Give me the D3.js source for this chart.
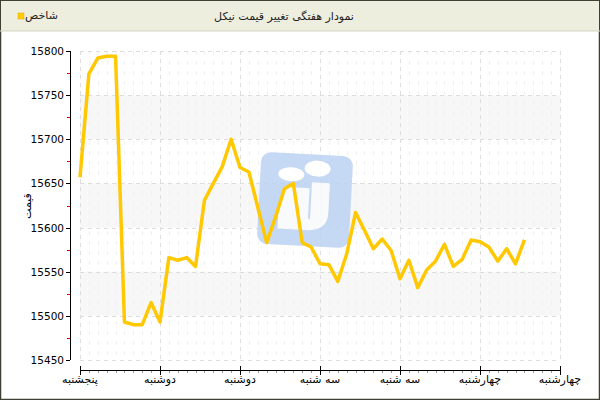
<!DOCTYPE html>
<html><head><meta charset="utf-8">
<script src="https://cdn.jsdelivr.net/npm/d3@7"></script>
<style>body{margin:0;background:#fff}svg{display:block}</style>
</head><body><svg id="c" width="600" height="400"></svg>
<script>
const title = "نمودار هفتگی تغییر قیمت نیکل";
const seriesName = "شاخص";
const yTitle = "قیمت";
const tickLabels = ["پنجشنبه","دوشنبه","دوشنبه","سه شنبه","سه شنبه","چهارشنبه","چهارشنبه"];
const tickIndex = [0,9,18,27,36,45,54];
const values = [15657,15774,15792,15794,15794,15493,15490,15490,15515,15493,
  15566,15563,15566,15556,15631,15650,15669,15700,15668,15663,
  15623,15583,15612,15644,15650,15583,15578,15559,15558,15539,
  15570,15617,15597,15576,15587,15574,15542,15563,15532,15552,
  15562,15581,15556,15564,15586,15584,15578,15562,15576,15559,15586];
const yTicks = [15450,15500,15550,15600,15650,15700,15750,15800];

const svg = d3.select("#c");
const font = "DejaVu Sans";
const L=80,R=560,T=51,B=360;
const x = d3.scaleLinear().domain([0,54]).range([L,R]);
const y = d3.scaleLinear().domain([15450,15800]).range([B,T]);

// frame and title bar
svg.append("rect").attr("x",0.5).attr("y",0.5).attr("width",599).attr("height",399).attr("fill","#fff").attr("stroke","#3f3f33").attr("stroke-width",1.5);
svg.append("rect").attr("x",1).attr("y",1).attr("width",598).attr("height",30).attr("fill","#eeeedf");
svg.append("line").attr("x1",0).attr("x2",600).attr("y1",31).attr("y2",31).attr("stroke","#d6d6c6");
svg.append("text").attr("x",284).attr("y",20).attr("text-anchor","middle").attr("font-family",font).attr("font-size",11).attr("fill","#222").attr("direction","rtl").text(title);
svg.append("rect").attr("x",18).attr("y",13).attr("width",6).attr("height",6).attr("fill","#ffcc00").attr("stroke","#e0b000").attr("stroke-width",0.5);
svg.append("text").attr("x",25).attr("y",19).attr("text-anchor","start").attr("font-family",font).attr("font-size",11).attr("fill","#222").text(seriesName);

// bands
const bands=[[15500,15550],[15600,15650],[15700,15750]];
svg.append("g").selectAll("rect").data(bands).join("rect")
  .attr("x",L).attr("width",R-L).attr("y",d=>y(d[1])).attr("height",d=>y(d[0])-y(d[1])).attr("fill","#f7f7f7");

// minor vertical grid
svg.append("g").selectAll("line").data(d3.range(0,55).filter(i=>i%9!==0)).join("line")
  .attr("x1",d=>Math.round(x(d))+0.5).attr("x2",d=>Math.round(x(d))+0.5).attr("y1",T).attr("y2",B)
  .attr("stroke","#f0f0f0").attr("stroke-dasharray","4,6");
// major grid
svg.append("g").selectAll("line").data(tickIndex).join("line")
  .attr("x1",d=>Math.round(x(d))+0.5).attr("x2",d=>Math.round(x(d))+0.5).attr("y1",T).attr("y2",B)
  .attr("stroke","#dddddd").attr("stroke-dasharray","4,4");
svg.append("g").selectAll("line").data(yTicks).join("line")
  .attr("x1",L).attr("x2",R).attr("y1",d=>Math.round(y(d))+0.5).attr("y2",d=>Math.round(y(d))+0.5)
  .attr("stroke","#dddddd").attr("stroke-dasharray","4,4");

// watermark logo
const wm = svg.append("g").attr("transform","translate(305,200) rotate(3)").attr("opacity",0.85);
wm.append("rect").attr("x",-46).attr("y",-46).attr("width",92).attr("height",92).attr("rx",10).attr("fill","#bcd3f3");
wm.append("ellipse").attr("cx",-15).attr("cy",-25).attr("rx",13).attr("ry",7).attr("fill","#fff");
wm.append("ellipse").attr("cx",11).attr("cy",-32).attr("rx",13).attr("ry",8).attr("fill","#fff");
wm.append("path").attr("d","M6,-18 L24,-18 L24,12 Q24,28 6,30 L-26,30 L-26,20 Q-28,0 -18,-12 L4,-12 L4,18 Q6,20 6,18 Z").attr("fill","#fff").attr("opacity",0.9);

// y axis
const ya = svg.append("g");
ya.append("line").attr("x1",70.5).attr("x2",70.5).attr("y1",T).attr("y2",B).attr("stroke","#000");
ya.selectAll(".mj").data(yTicks).join("line").attr("class","mj").attr("x1",66).attr("x2",70).attr("y1",d=>Math.round(y(d))+0.5).attr("y2",d=>Math.round(y(d))+0.5).attr("stroke","#000");
ya.selectAll(".mn").data(yTicks.slice(0,-1).map(v=>v+25)).join("line").attr("class","mn").attr("x1",67).attr("x2",70).attr("y1",d=>Math.round(y(d))+0.5).attr("y2",d=>Math.round(y(d))+0.5).attr("stroke","#e00000");
ya.selectAll("text").data(yTicks).join("text").attr("x",64).attr("y",d=>y(d)+4).attr("text-anchor","end").attr("font-family",font).attr("font-size",10.5).attr("fill","#000").text(d=>d);
svg.append("text").attr("transform","translate(31,206) rotate(-90)").attr("text-anchor","middle").attr("font-family",font).attr("font-size",11).attr("fill","#000").text(yTitle);

// x axis
const xa = svg.append("g");
xa.append("line").attr("x1",L).attr("x2",R).attr("y1",370.5).attr("y2",370.5).attr("stroke","#000");
xa.selectAll(".mn").data(d3.range(0,55).filter(i=>i%9!==0)).join("line").attr("class","mn").attr("x1",d=>Math.round(x(d))+0.5).attr("x2",d=>Math.round(x(d))+0.5).attr("y1",371).attr("y2",373).attr("stroke","#999");
xa.selectAll(".mj").data(tickIndex).join("line").attr("class","mj").attr("x1",d=>Math.round(x(d))+0.5).attr("x2",d=>Math.round(x(d))+0.5).attr("y1",366).attr("y2",375).attr("stroke","#000");
xa.selectAll("text").data(tickIndex).join("text").attr("x",d=>x(d)).attr("y",383).attr("text-anchor","middle").attr("font-family",font).attr("font-size",11).attr("fill","#000").text((d,i)=>tickLabels[i]);

// line
const line = d3.line().x((d,i)=>x(i)).y(d=>y(d));
svg.append("path").datum(values).attr("d",line).attr("fill","none").attr("stroke","#ffc800").attr("stroke-width",3.5).attr("stroke-linejoin","round");
</script></body></html>
